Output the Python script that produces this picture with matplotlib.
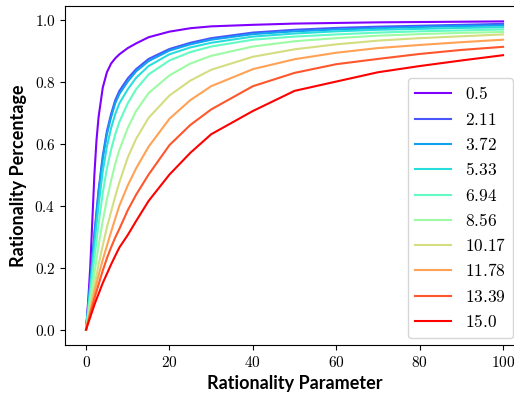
import matplotlib
matplotlib.use('Agg')
import matplotlib.pyplot as plt
import numpy as np
from matplotlib.ticker import FuncFormatter

plt.rcParams['mathtext.fontset'] = 'cm'

# rationality parameter values (x) where the curves were read
x = [0, 0.5, 1, 1.5, 2, 2.5, 3, 4, 5, 6, 7, 8, 10, 12, 15, 20, 25, 30, 40, 50, 60, 70, 80, 90, 100]

labels = ['0.5', '2.11', '3.72', '5.33', '6.94', '8.56', '10.17', '11.78', '13.39', '15.0']

y_05 = [0, 0.09, 0.20, 0.35, 0.50, 0.61, 0.685, 0.78, 0.83, 0.858, 0.875, 0.888, 0.908, 0.923, 0.943, 0.961, 0.972, 0.978, 0.983, 0.987, 0.989, 0.991, 0.992, 0.993, 0.994]
y_211 = [0, 0.075, 0.15, 0.23, 0.31, 0.38, 0.45, 0.56, 0.64, 0.695, 0.74, 0.77, 0.81, 0.84, 0.873, 0.905, 0.925, 0.94, 0.958, 0.967, 0.973, 0.977, 0.98, 0.983, 0.986]
y_372 = [0, 0.072, 0.145, 0.225, 0.30, 0.37, 0.44, 0.55, 0.63, 0.685, 0.73, 0.76, 0.80, 0.833, 0.866, 0.90, 0.92, 0.935, 0.953, 0.962, 0.968, 0.972, 0.976, 0.979, 0.981]
y_533 = [0, 0.065, 0.13, 0.20, 0.27, 0.335, 0.40, 0.51, 0.59, 0.65, 0.695, 0.73, 0.775, 0.812, 0.85, 0.888, 0.91, 0.925, 0.945, 0.955, 0.962, 0.967, 0.97, 0.973, 0.975]
y_694 = [0, 0.055, 0.11, 0.17, 0.23, 0.285, 0.34, 0.44, 0.52, 0.58, 0.63, 0.67, 0.73, 0.775, 0.823, 0.868, 0.895, 0.913, 0.935, 0.945, 0.952, 0.958, 0.962, 0.965, 0.968]
y_856 = [0, 0.045, 0.09, 0.135, 0.18, 0.225, 0.27, 0.35, 0.42, 0.48, 0.535, 0.58, 0.65, 0.705, 0.763, 0.82, 0.858, 0.883, 0.913, 0.93, 0.94, 0.948, 0.953, 0.957, 0.96]
y_1017 = [0, 0.035, 0.07, 0.105, 0.14, 0.175, 0.21, 0.27, 0.33, 0.38, 0.43, 0.475, 0.555, 0.615, 0.683, 0.755, 0.803, 0.838, 0.88, 0.904, 0.92, 0.932, 0.94, 0.946, 0.952]
y_1178 = [0, 0.03, 0.06, 0.09, 0.12, 0.148, 0.175, 0.225, 0.27, 0.315, 0.358, 0.40, 0.465, 0.52, 0.59, 0.68, 0.74, 0.785, 0.84, 0.872, 0.893, 0.908, 0.918, 0.927, 0.935]
y_1339 = [0, 0.025, 0.05, 0.075, 0.10, 0.123, 0.145, 0.19, 0.23, 0.265, 0.297, 0.325, 0.385, 0.435, 0.50, 0.595, 0.66, 0.71, 0.785, 0.828, 0.856, 0.873, 0.889, 0.902, 0.912]
y_150 = [0, 0.02, 0.04, 0.06, 0.08, 0.098, 0.115, 0.15, 0.18, 0.21, 0.238, 0.265, 0.305, 0.35, 0.415, 0.50, 0.57, 0.63, 0.705, 0.77, 0.80, 0.83, 0.85, 0.868, 0.885]

series = [y_05, y_211, y_372, y_533, y_694, y_856, y_1017, y_1178, y_1339, y_150]

fig = plt.figure(figsize=(5.14, 3.97), dpi=100)
ax = fig.add_axes([65.2/514, 52/397, 458.7/514, 339/397])

colors = plt.cm.rainbow(np.linspace(0, 1, len(series)))
for ys, lab, c in zip(series, labels, colors):
    ax.plot(x, ys, color=c, linewidth=1.5, label=r'$\mathsf{' + lab + '}$')

ax.set_xticks([0, 20, 40, 60, 80, 100])
ax.set_yticks([0.0, 0.2, 0.4, 0.6, 0.8, 1.0])
ax.xaxis.set_major_formatter(FuncFormatter(lambda v, p: f'${v:.0f}$'))
ax.yaxis.set_major_formatter(FuncFormatter(lambda v, p: f'${v:.1f}$'))
ax.tick_params(labelsize=11)

ax.set_xlabel('Rationality Parameter', fontsize=13, fontweight='bold', family='Lato', labelpad=4)
ax.set_ylabel('Rationality Percentage', fontsize=13, fontweight='bold', family='Lato', labelpad=5)

ax.legend(loc='lower right', bbox_to_anchor=(513/514, 59/397), bbox_transform=fig.transFigure,
          borderaxespad=0, fontsize=12.5, labelspacing=0.42, handlelength=2.1)

fig.savefig('out.png', dpi=100)
